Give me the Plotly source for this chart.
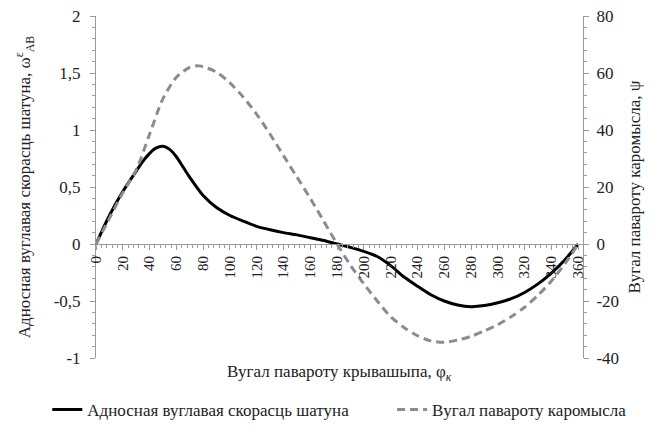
import plotly.graph_objects as go

phi = [0, 10, 20, 30, 35, 40, 45, 50, 55, 60, 65, 70, 80, 90, 100, 110, 120, 130, 140, 150, 160,
       170, 180, 190, 200, 210, 220, 230, 240, 250, 260, 270, 280, 290, 300, 310, 320, 330, 340,
       350, 360]
omega = [0, 0.25, 0.46, 0.64, 0.725, 0.795, 0.843, 0.858, 0.83, 0.765, 0.675, 0.585, 0.425, 0.32,
         0.25, 0.20, 0.155, 0.125, 0.10, 0.08, 0.055, 0.03, 0.0, -0.03, -0.065, -0.11, -0.19,
         -0.29, -0.37, -0.445, -0.50, -0.535, -0.55, -0.54, -0.515, -0.48, -0.425, -0.35, -0.255,
         -0.14, 0.0]
psi_phi = [0, 10, 20, 30, 40, 50, 60, 70, 77, 90, 100, 110, 120, 130, 140, 150, 160, 170, 180,
           190, 200, 210, 220, 230, 240, 250, 260, 270, 280, 290, 300, 310, 320, 330, 340, 350, 360]
psi = [0, 9, 18, 26, 38.5, 51, 58.5, 62, 62.5, 60.3, 56.5, 51.5, 45.5, 38.5, 31, 23.5, 16, 8, 0,
       -7.5, -14, -20, -25.5, -29.3, -32.2, -34, -34.5, -33.7, -32.4, -30.5, -28.3, -25.5, -22.2,
       -18, -13, -7, 0]

x_ticks = list(range(0, 361, 20))
left_ticks = [-1, -0.5, 0, 0.5, 1, 1.5, 2]
left_text = ["-1", "-0,5", "0", "0,5", "1", "1,5", "2"]
right_ticks = [-40, -20, 0, 20, 40, 60, 80]
right_text = ["-40", "-20", "0", "20", "40", "60", "80"]

name1 = "Адносная вуглавая скорасць шатуна"
name2 = "Вугал павароту каромысла"

font = "Liberation Serif, Times New Roman, DejaVu Serif, serif"
grey = "#9a9a9a"
txt = "#222"

fig = go.Figure()
fig.add_trace(go.Scatter(x=phi, y=omega, name=name1, mode="lines", legend="legend",
                         line=dict(color="black", width=3, shape="spline", smoothing=0.7),
                         yaxis="y"))
fig.add_trace(go.Scatter(x=psi_phi, y=psi, name=name2, mode="lines", legend="legend2",
                         line=dict(color="#8c8c8c", width=3, dash="8px,5px", shape="spline", smoothing=0.8),
                         yaxis="y2"))

leg_common = dict(orientation="h", yanchor="middle", xanchor="left", y=-0.152,
                  font=dict(family=font, size=17, color=txt), bgcolor="rgba(0,0,0,0)")

fig.update_layout(
    width=656, height=428,
    margin=dict(l=96, r=73, t=16, b=70, autoexpand=False),
    paper_bgcolor="white", plot_bgcolor="white",
    font=dict(family=font, size=17, color=txt),
    showlegend=True,
    legend=dict(x=-0.1, **leg_common),
    legend2=dict(x=0.608, **leg_common),
    xaxis=dict(range=[0, 363.6], anchor="free", position=1/3, automargin=False,
               tickmode="array", tickvals=x_ticks, ticktext=[str(v) for v in x_ticks],
               tickangle=-90, showline=True, linecolor=grey, linewidth=1,
               ticks="outside", ticklen=5, tickcolor=grey,
               minor=dict(dtick=4, ticks="outside", ticklen=3, tickcolor=grey),
               showgrid=False, zeroline=False, tickfont=dict(size=15, family=font, color=txt)),
    yaxis=dict(range=[-1, 2], tickmode="array", tickvals=left_ticks, ticktext=left_text,
               automargin=False, showline=True, linecolor=grey, linewidth=1,
               ticks="outside", ticklen=5, tickcolor=grey, ticklabelstandoff=6,
               minor=dict(dtick=0.1, ticks="outside", ticklen=3, tickcolor=grey),
               showgrid=False, zeroline=False, tickfont=dict(size=17, family=font, color=txt),
               title=dict(text="Адносная вуглавая скорасць шатуна, ω<sup>ε</sup><sub>AB</sub>",
                          font=dict(size=17, family=font, color=txt), standoff=18)),
    yaxis2=dict(range=[-40, 80], overlaying="y", side="right", anchor="x", automargin=False,
                tickmode="array", tickvals=right_ticks, ticktext=right_text,
                showline=True, linecolor=grey, linewidth=1,
                ticks="outside", ticklen=5, tickcolor=grey, ticklabelstandoff=4,
                minor=dict(dtick=4, ticks="outside", ticklen=3, tickcolor=grey),
                showgrid=False, zeroline=False, tickfont=dict(size=17, family=font, color=txt),
                title=dict(text="Вугал павароту каромысла, ψ",
                           font=dict(size=17, family=font, color=txt), standoff=10)),
    annotations=[dict(text="Вугал павароту крывашыпа, φ<sub><i>к</i></sub>",
                      xref="paper", yref="paper", x=0.5, y=-0.044,
                      xanchor="center", yanchor="middle", showarrow=False,
                      font=dict(size=17, family=font, color=txt))],
)

fig.write_html("out.html", config={"displayModeBar": False},
               post_script="document.body.style.margin='0';")
